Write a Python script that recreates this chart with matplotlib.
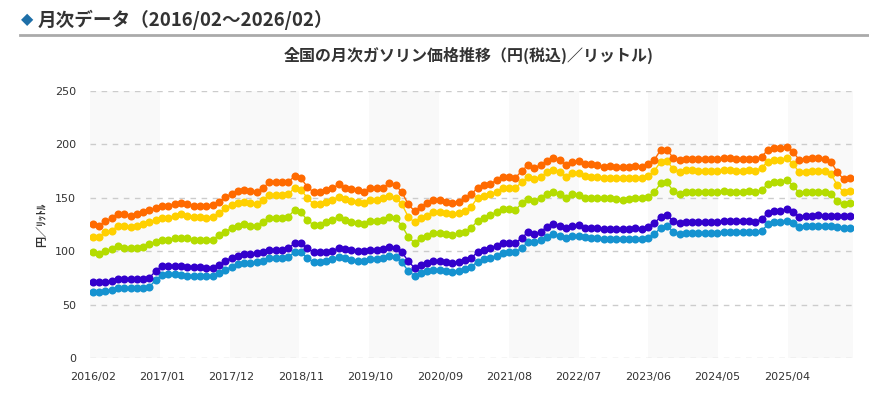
import matplotlib
matplotlib.use("Agg")
import matplotlib.pyplot as plt
import numpy as np

# ---------------- data ----------------
tick_labels = ["2016/02", "2017/01", "2017/12", "2018/11", "2019/10", "2020/09",
               "2021/08", "2022/07", "2023/06", "2024/05", "2025/04"]

high_octane = [
    125.2, 123.9, 128.3, 130.8, 135.1, 134.5, 133.3, 134.5, 136.4, 138.6, 140.1, 142.6, 142.6, 144.5, 145.4, 144.5, 142.6,
    142.6, 142.6, 143.2, 145.7, 151.0, 153.2, 156.3, 157.2, 156.3, 155.1, 159.4, 164.4, 164.4, 164.4, 165.0, 170.0, 168.2, 160.3,
    155.1, 155.1, 157.2, 158.8, 162.6, 159.4, 158.2, 157.2, 155.6, 158.8, 158.8, 159.4, 163.5, 161.9, 155.1, 143.9, 137.6, 141.7,
    144.8, 147.9, 147.9, 145.7, 144.8, 146.3, 149.5, 153.2, 159.4, 161.9, 162.6, 166.6, 169.7, 169.7, 168.7, 175.0, 180.6,
    178.1, 180.6, 184.3, 186.8, 185.3, 180.6, 183.7, 184.3, 181.2, 181.2, 180.6, 179.0, 180.0, 179.0, 179.0, 179.0, 180.0,
    179.0, 181.2, 185.3, 194.6, 194.6, 187.4, 185.3, 186.2, 186.2, 186.2, 186.2, 186.2, 186.2, 186.8, 187.4, 186.2, 186.2, 186.2,
    186.2, 188.4, 194.6, 196.2, 196.2, 197.7, 192.5, 185.3, 186.2, 186.8, 186.8, 186.2, 183.7, 173.8, 167.5, 168.2,
]
regular = [
    113.6, 113.6, 117.7, 119.2, 123.9, 123.9, 122.9, 123.9, 125.2, 127.1, 129.2, 131.4, 131.4, 133.3, 134.5, 133.3, 132.3,
    132.3, 131.4, 132.3, 135.4, 140.1, 143.2, 144.8, 145.7, 144.8, 143.9, 147.9, 152.6, 152.6, 152.6, 153.2, 159.4, 157.2, 150.1,
    143.9, 143.9, 146.3, 147.9, 151.0, 148.8, 147.0, 146.3, 144.8, 147.9, 147.9, 149.5, 151.9, 150.1, 143.9, 132.3, 127.1, 131.5,
    133.3, 136.4, 136.4, 135.4, 134.5, 135.4, 137.6, 141.7, 150.1, 151.9, 153.2, 155.7, 158.8, 159.4, 159.4, 164.4, 169.7,
    167.5, 169.7, 173.8, 175.9, 174.4, 169.7, 172.8, 172.8, 170.6, 169.7, 169.7, 168.7, 168.7, 168.7, 168.7, 168.7, 168.7,
    168.7, 170.6, 175.0, 183.7, 184.3, 176.9, 174.4, 175.9, 175.9, 175.0, 175.0, 175.0, 175.0, 175.9, 175.9, 175.0, 175.0, 175.9,
    175.0, 178.1, 183.7, 185.3, 185.3, 186.8, 181.2, 173.8, 174.4, 175.0, 175.0, 175.0, 171.9, 161.9, 155.1, 156.3,
]
diesel = [
    99.0, 97.7, 100.2, 102.1, 105.2, 103.3, 103.3, 103.3, 104.3, 106.5, 108.4, 110.5, 110.5, 112.1, 112.7, 112.1, 110.5,
    110.5, 110.5, 110.5, 115.2, 118.3, 121.4, 123.9, 125.2, 123.9, 123.9, 127.1, 131.4, 131.4, 131.4, 132.3, 138.6, 136.4, 129.2,
    124.5, 124.5, 127.1, 129.2, 132.3, 129.2, 127.1, 126.1, 125.2, 128.3, 128.3, 129.2, 132.3, 130.8, 123.9, 113.6, 107.8, 112.4,
    114.5, 116.8, 116.8, 115.8, 115.2, 116.8, 118.3, 122.0, 128.3, 131.4, 133.9, 136.4, 139.5, 139.5, 138.6, 144.8, 149.0,
    147.0, 150.1, 153.2, 155.7, 153.2, 149.5, 153.2, 152.6, 150.1, 150.1, 150.1, 149.5, 149.5, 148.8, 147.9, 148.8, 150.1,
    150.1, 151.0, 155.1, 163.5, 164.4, 156.3, 153.2, 155.7, 155.7, 155.1, 155.1, 155.7, 155.7, 156.3, 155.7, 155.1, 155.7, 156.3,
    155.7, 157.2, 162.6, 165.0, 165.0, 166.6, 161.3, 154.1, 155.1, 155.7, 155.7, 155.7, 153.2, 147.0, 143.9, 144.8,
]
kerosene_a = [
    71.0, 71.0, 71.6, 72.2, 74.1, 74.1, 74.1, 74.1, 74.1, 75.3, 81.6, 86.5, 86.5, 86.5, 86.5, 85.6, 85.6,
    85.6, 84.7, 84.7, 87.2, 90.9, 94.0, 95.9, 97.1, 97.1, 98.1, 99.6, 101.2, 101.2, 101.2, 102.8, 107.4, 107.4, 102.8,
    99.0, 99.0, 99.0, 100.2, 103.3, 102.1, 101.2, 100.2, 100.2, 101.2, 101.2, 102.1, 104.3, 103.3, 99.0, 90.9, 84.4, 87.2,
    88.7, 90.9, 90.9, 89.7, 88.7, 90.3, 91.8, 94.0, 99.0, 101.2, 103.3, 105.2, 107.4, 107.4, 107.4, 112.7, 117.7,
    115.8, 118.3, 122.9, 125.2, 123.9, 121.4, 123.9, 124.5, 122.0, 122.0, 121.4, 120.8, 120.8, 120.8, 120.8, 120.8, 121.4,
    120.8, 122.9, 126.1, 132.3, 133.9, 128.3, 126.1, 127.6, 127.6, 127.1, 127.1, 127.6, 127.6, 128.3, 128.3, 128.3, 128.3, 128.3,
    127.6, 130.1, 135.4, 137.6, 137.6, 139.5, 136.4, 132.3, 133.3, 133.3, 133.9, 133.3, 133.3, 133.3, 133.3, 133.3,
]
kerosene_b = [
    62.3, 61.6, 62.9, 63.8, 65.4, 65.4, 65.4, 65.4, 65.4, 66.9, 73.2, 77.8, 78.5, 78.5, 77.8, 77.2, 77.2,
    77.2, 77.2, 77.2, 79.4, 82.5, 85.6, 87.8, 88.7, 88.7, 89.7, 90.9, 93.4, 94.0, 94.0, 94.9, 99.0, 99.0, 94.0,
    89.7, 89.7, 90.9, 92.8, 94.9, 93.4, 91.8, 90.9, 90.9, 92.8, 92.8, 93.4, 95.9, 94.9, 89.7, 81.6, 77.2, 79.4,
    81.6, 82.5, 82.5, 81.6, 80.9, 81.6, 83.4, 85.6, 90.3, 92.8, 94.0, 95.9, 98.1, 99.0, 99.0, 103.3, 108.4,
    108.4, 110.5, 113.6, 115.8, 114.5, 112.1, 114.5, 114.5, 113.6, 112.7, 112.1, 111.5, 111.5, 111.5, 111.5, 111.5, 111.5,
    111.5, 112.7, 115.8, 122.0, 123.9, 118.3, 115.8, 116.8, 116.8, 116.8, 116.8, 116.8, 116.8, 117.7, 117.7, 117.7, 117.7, 118.0,
    118.3, 118.9, 125.2, 127.1, 127.1, 128.3, 126.1, 122.9, 123.9, 123.9, 123.9, 123.9, 123.9, 122.9, 122.0, 122.0,
]

series = [
    (kerosene_b, "#1592d0"),
    (kerosene_a, "#3300cc"),
    (diesel, "#b4dc00"),
    (regular, "#ffd000"),
    (high_octane, "#ff6a00"),
]

# ---------------- fonts ----------------
plt.rcParams["font.family"] = ["Noto Sans CJK JP", "DejaVu Sans"]
TXT = "#333333"

W, H = 870, 395
fig = plt.figure(figsize=(W / 100, H / 100), dpi=100)

# header
fig.text(21 / W, 1 - 20 / H, "◆", color="#1e6fa8", fontsize=11.5, fontweight="bold",
         va="center", ha="left", family=["DejaVu Sans"])
fig.text(38 / W, 1 - 19.5 / H, "月次データ（2016/02～2026/02）", color=TXT, fontsize=13.4,
         fontweight="bold", va="center", ha="left")
fig.add_artist(plt.Line2D([20 / W, 1.0], [1 - 34.5 / H, 1 - 34.5 / H], color="#aaaaaa",
                          lw=2, transform=fig.transFigure))
fig.text(469 / W, 1 - 55 / H, "全国の月次ガソリン価格推移（円(税込)／リットル)", color=TXT,
         fontsize=11.5, fontweight="bold", va="center", ha="center")

# axes
left, right, top, bottom = 90, 853.3, 90.7, 358.3
ax = fig.add_axes([left / W, 1 - bottom / H, (right - left) / W, (bottom - top) / H])
n = len(regular)
x = np.arange(n)
step = 6.31
xmin = (left - 92.7) / step
xmax = (right - 92.7) / step
ax.set_xlim(xmin, xmax)
ax.set_ylim(0, 250)

# alternating bands
band = 69.8 / step
k = 0
while xmin + k * band < xmax:
    if k % 2 == 0:
        ax.axvspan(xmin + k * band, min(xmin + (k + 1) * band, xmax), color="#f9f9f9", lw=0, zorder=0)
    k += 1

for v in range(0, 251, 50):
    ax.axhline(v, color="#cccccc", lw=1, ls=(0, (4, 4)), zorder=1)

for vals, c in series:
    ax.plot(x, vals, color=c, lw=1, marker="o", ms=5.8, mec="none", mfc=c, zorder=3)

for s in ax.spines.values():
    s.set_visible(False)
ax.set_facecolor("white")
ax.set_xticks(np.arange(0, n, 11))
ax.set_xticklabels(tick_labels, family=["DejaVu Sans"], fontsize=8, color=TXT)
ax.set_yticks(range(0, 251, 50))
ax.set_yticklabels([str(v) for v in range(0, 251, 50)], family=["DejaVu Sans"], fontsize=8, color=TXT)
ax.tick_params(length=0, pad=10, axis="y")
ax.tick_params(length=0, pad=10, axis="x")

fig.text(42 / W, 1 - 225 / H, "円／ﾘｯﾄﾙ", rotation=90, fontsize=8, fontweight="bold",
         color=TXT, va="center", ha="center")

fig.savefig("out.png", dpi=100, facecolor="white")
